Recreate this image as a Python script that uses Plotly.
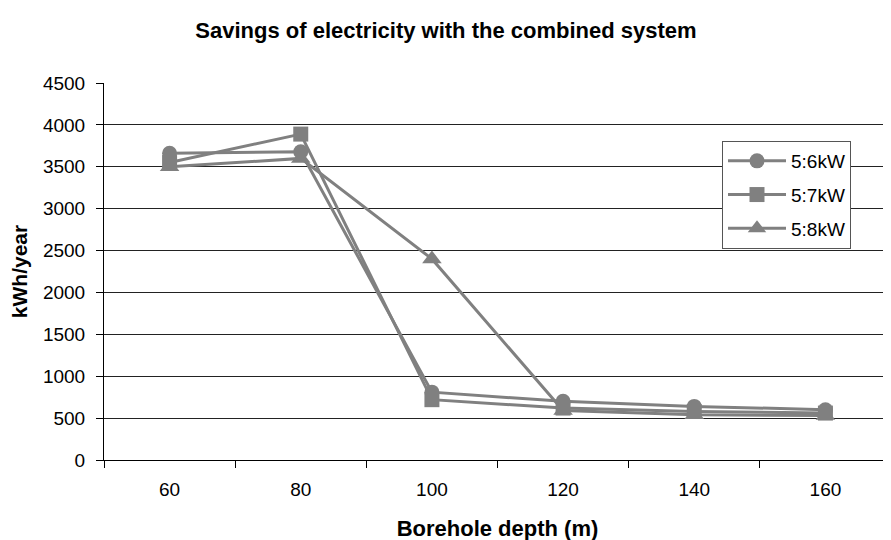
import plotly.graph_objects as go

depths = ["60", "80", "100", "120", "140", "160"]
s6kw = [3660, 3680, 810, 700, 640, 600]
s7kw = [3550, 3890, 720, 620, 580, 560]
s8kw = [3500, 3600, 2400, 590, 540, 530]
series = [("5:6kW", s6kw, "circle", 15), ("5:7kW", s7kw, "square", 15), ("5:8kW", s8kw, "triangle-up", 17)]

GRAY = "#808080"
FONT = "Liberation Sans, Arial, sans-serif"
OFF = 8  # page body margin
L, T, R, B = 104 - OFF, 83 - OFF, OFF, 540 - 460 + OFF
PW, PH = 891 - L - R, 540 - T - B

fig = go.Figure()
for name, vals, sym, sz in series:
    fig.add_trace(go.Scatter(
        x=depths, y=vals, name=name, mode="lines+markers", legendgroup=name,
        line=dict(color=GRAY, width=3),
        marker=dict(symbol=sym, size=sz, color=GRAY),
    ))

fig.update_layout(
    width=891, height=540,
    paper_bgcolor="white", plot_bgcolor="white",
    margin=dict(l=L, r=R, t=T, b=B),
    font=dict(family=FONT, color="black", size=19),
    title=dict(text="<b>Savings of electricity with the combined system</b>",
               x=(446 - OFF) / 891, xanchor="center", xref="container",
               y=1 - (30 - OFF) / 540, yanchor="middle", yref="container",
               font=dict(size=22, color="black")),
    showlegend=True,
    legend=dict(x=(722 - 104) / PW, xanchor="left", y=1 - (141 - 83) / PH, yanchor="top",
                bordercolor="#555555", borderwidth=1, bgcolor="white",
                font=dict(size=19), itemwidth=58, tracegroupgap=6),
    xaxis=dict(type="category", range=[-0.5, 5.5], tickson="boundaries",
               ticks="outside", ticklen=7, tickcolor="black", automargin=False,
               showline=True, linecolor="black", linewidth=1, ticklabelstandoff=12,
               showgrid=False, tickfont=dict(size=19),
               title=dict(text="<b>Borehole depth (m)</b>", font=dict(size=22), standoff=21)),
    yaxis=dict(range=[0, 4500], dtick=500, tick0=0, automargin=False,
               ticks="outside", ticklen=7, tickcolor="black", ticklabelstandoff=7,
               showline=True, linecolor="black", linewidth=1,
               showgrid=True, gridcolor="#222222", gridwidth=1,
               zeroline=False, tickfont=dict(size=19),
               title=dict(text="<b>kWh/year</b>", font=dict(size=21), standoff=19)),
)
fig.write_html("out.html")
